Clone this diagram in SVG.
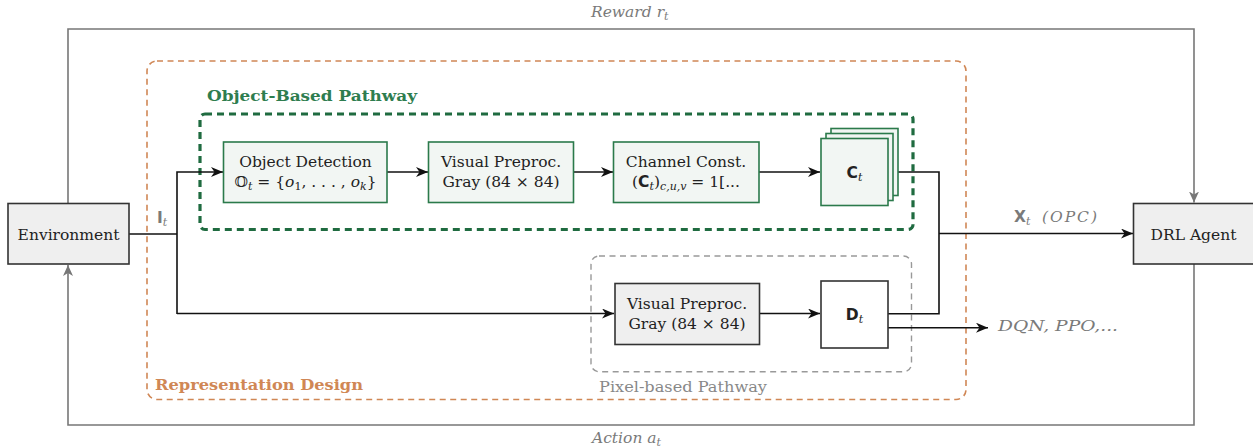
<svg xmlns="http://www.w3.org/2000/svg" width="1253" height="448" viewBox="0 0 1253 448">
<style>
  .t { font-family: "DejaVu Serif", "Liberation Serif", serif; font-size: 15.5px; fill: #222; }
  .it { font-style: italic; }
  .sf { font-family: "DejaVu Sans", "Liberation Sans", sans-serif; font-weight: bold; }
  .lbl { font-family: "DejaVu Serif", "Liberation Serif", serif; }
  .gray { fill: #7a7a7a; }
  .gbox { fill: #f2f6f3; stroke: #2b7a4b; stroke-width: 1.6; }
  .plain { fill: #efefef; stroke: #333; stroke-width: 1.6; }
  .conn { fill: none; stroke: #111; stroke-width: 1.6; }
  .loop { fill: none; stroke: #777; stroke-width: 1.6; }
</style>
<defs>
  <marker id="ah" markerUnits="userSpaceOnUse" markerWidth="13" markerHeight="10" refX="12" refY="5" orient="auto">
    <path d="M0,0 L12,5 L0,10 L3.5,5 Z" fill="#111"/>
  </marker>
  <marker id="ahg" markerUnits="userSpaceOnUse" markerWidth="12" markerHeight="10" refX="11" refY="5" orient="auto">
    <path d="M0,0 L11,5 L0,10 L3,5 Z" fill="#777"/>
  </marker>
</defs>

<!-- containers -->
<g id="representation-design">
  <rect x="147" y="61" width="819" height="338.5" rx="10" fill="none" stroke="#d08755" stroke-width="1.6" stroke-dasharray="6,4.5"/>
  <text class="lbl" x="155" y="389.5" font-size="14.5" font-weight="bold" fill="#d08755" textLength="208" lengthAdjust="spacingAndGlyphs">Representation Design</text>
</g>
<g id="object-based-pathway">
  <rect x="200" y="114" width="713" height="115.5" rx="5" fill="none" stroke="#1f6b40" stroke-width="3.2" stroke-dasharray="7,5"/>
  <text class="lbl" x="207" y="101" font-size="14.5" font-weight="bold" fill="#2e7d4f" textLength="210" lengthAdjust="spacingAndGlyphs">Object-Based Pathway</text>
</g>
<g id="pixel-based-pathway">
  <rect x="591" y="256" width="320.5" height="115.7" rx="8" fill="none" stroke="#999" stroke-width="1.4" stroke-dasharray="6,4.5"/>
  <text class="lbl" x="599" y="391.5" font-size="15" fill="#888" textLength="168" lengthAdjust="spacingAndGlyphs">Pixel-based Pathway</text>
</g>

<!-- connectors -->
<g id="connectors">
  <path class="loop" d="M68,203.5 V29 H1194 V202.5" marker-end="url(#ahg)"/>
  <path class="loop" d="M1194,264 V425 H68 V265" marker-end="url(#ahg)"/>
  <path class="conn" d="M129,234 H177"/>
  <path class="conn" d="M177,314 V172 H223" marker-end="url(#ah)"/>
  <path class="conn" d="M177,313.5 H614" marker-end="url(#ah)"/>
  <path class="conn" d="M387,172 H428" marker-end="url(#ah)"/>
  <path class="conn" d="M573,172 H613" marker-end="url(#ah)"/>
  <path class="conn" d="M759,172 H820" marker-end="url(#ah)"/>
  <path class="conn" d="M759,313.5 H820" marker-end="url(#ah)"/>
  <path class="conn" d="M888,172 H939 V313.7 H888"/>
  <path class="conn" d="M939,233.5 H1133" marker-end="url(#ah)"/>
  <path class="conn" d="M888,327.7 H988" marker-end="url(#ah)"/>
  <text class="t" x="157" y="223" font-size="14"><tspan class="sf gray">I</tspan><tspan class="it gray" font-size="11" dy="3">t</tspan></text>
  <text class="t" x="1014" y="221.5" font-size="14.5"><tspan class="sf gray">X</tspan><tspan class="it gray" font-size="11" dy="3">t</tspan><tspan class="it gray" dy="-3" x="1042" textLength="55" lengthAdjust="spacing">(OPC)</tspan></text>
  <text class="t it gray" x="998" y="331" font-size="14" textLength="120" lengthAdjust="spacingAndGlyphs">DQN, PPO,...</text>
  <text class="t it gray" x="591" y="17" font-size="14">Reward <tspan>r</tspan><tspan font-size="11" dy="3">t</tspan></text>
  <text class="t it gray" x="592" y="443" font-size="14">Action <tspan>a</tspan><tspan font-size="11" dy="3">t</tspan></text>
</g>

<!-- nodes -->
<g id="environment">
  <rect class="plain" x="8" y="203.5" width="121" height="60.5"/>
  <text class="t" x="68.5" y="239.5" text-anchor="middle">Environment</text>
</g>
<g id="drl-agent">
  <rect class="plain" x="1133.5" y="203.5" width="125" height="60.5"/>
  <text class="t" x="1193.5" y="239.5" text-anchor="middle">DRL Agent</text>
</g>
<g id="object-detection">
  <rect class="gbox" x="223.5" y="142" width="163.5" height="60.5"/>
  <text class="t" x="305.5" y="166.5" text-anchor="middle">Object Detection</text>
  <text class="t" x="305.5" y="187" text-anchor="middle">𝕆<tspan class="it" font-size="11" dy="3">t</tspan><tspan dy="-3"> = {</tspan><tspan class="it">o</tspan><tspan font-size="11" dy="3">1</tspan><tspan dy="-3">, . . . , </tspan><tspan class="it">o</tspan><tspan class="it" font-size="11" dy="3">k</tspan><tspan dy="-3">}</tspan></text>
</g>
<g id="visual-preproc-obj">
  <rect class="gbox" x="428.5" y="142" width="145" height="60.5"/>
  <text class="t" x="501" y="166.5" text-anchor="middle">Visual Preproc.</text>
  <text class="t" x="501" y="187" text-anchor="middle">Gray (84 × 84)</text>
</g>
<g id="channel-const">
  <rect class="gbox" x="613.5" y="142" width="145.5" height="60.5"/>
  <text class="t" x="686" y="166.5" text-anchor="middle">Channel Const.</text>
  <text class="t" x="686" y="187" text-anchor="middle">(<tspan class="sf">C</tspan><tspan class="it" font-size="11" dy="3">t</tspan><tspan dy="-3">)</tspan><tspan class="it" font-size="11" dy="3">c,u,v</tspan><tspan dy="-3"> = 1[...</tspan></text>
</g>
<g id="ct-stack">
  <rect class="gbox" x="831" y="128.5" width="67" height="67" fill="#e8efea"/>
  <rect class="gbox" x="826" y="133.5" width="67" height="67" fill="#e8efea"/>
  <rect class="gbox" x="821" y="138.5" width="67" height="67"/>
  <text class="t" x="854.5" y="178" text-anchor="middle"><tspan class="sf">C</tspan><tspan class="it" font-size="11" dy="3">t</tspan></text>
</g>
<g id="visual-preproc-pix">
  <rect class="plain" x="615" y="283.5" width="144.5" height="61"/>
  <text class="t" x="687" y="308.5" text-anchor="middle">Visual Preproc.</text>
  <text class="t" x="687" y="328.5" text-anchor="middle">Gray (84 × 84)</text>
</g>
<g id="dt">
  <rect x="821" y="281" width="67" height="67" fill="#fff" stroke="#333" stroke-width="1.6"/>
  <text class="t" x="854.5" y="319.5" text-anchor="middle"><tspan class="sf">D</tspan><tspan class="it" font-size="11" dy="3">t</tspan></text>
</g>
</svg>
